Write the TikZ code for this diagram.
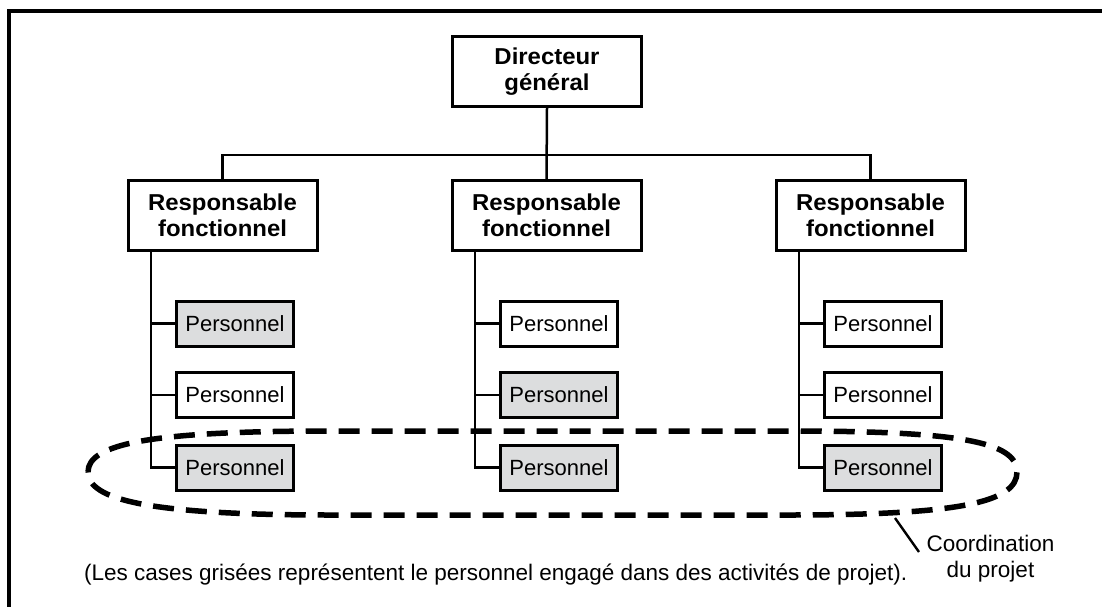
\documentclass[tikz,border=0pt]{standalone}
\usepackage{fontspec}
\setmainfont{Liberation Sans}
\newfontfamily\titrefont[FakeStretch=1.04]{Liberation Sans}
\usepackage{tikz}
\definecolor{grisCase}{RGB}{220,221,222}
\tikzstyle{chef}=[rectangle, draw, line width=3pt, fill=white, minimum width=189pt, minimum height=70pt, inner sep=0pt, align=center, font=\titrefont\bfseries\fontsize{23}{26}\selectfont]
\tikzstyle{perso}=[rectangle, draw, line width=3pt, fill=white, minimum width=117pt, minimum height=45pt, inner sep=0pt, font=\fontsize{22}{26}\selectfont]
\tikzstyle{gris}=[perso, fill=grisCase]
\tikzstyle{lien}=[line width=2.5pt]

\begin{document}
\begin{tikzpicture}[x=1pt, y=-1pt]
  \useasboundingbox (0,0) rectangle (1102,607);
  \draw[line width=3.2pt] (9,607) -- (9,11) -- (1102,11);
  % direction
  \node[chef] (dg) at (547,71.5) {Directeur\\général};
  \node[chef] (rf1) at (222.5,215.5) {Responsable\\fonctionnel};
  \node[chef] (rf2) at (546.5,215.5) {Responsable\\fonctionnel};
  \node[chef] (rf3) at (870.5,215.5) {Responsable\\fonctionnel};
  \coordinate (barre) at (547,155);
  \draw[lien] (dg.south) -- (rf2.north);
  \draw[lien] (rf1.north) |- (barre) -| (rf3.north);
  % personnel
  \foreach \c/\x/\a/\b/\d in {1/222.5/gris/perso/gris, 2/546.5/perso/gris/gris, 3/870.5/perso/perso/gris}{
    \node[\a] (p\c1) at (\x+12.5,323.5) {Personnel};
    \node[\b] (p\c2) at (\x+12.5,395) {Personnel};
    \node[\d] (p\c3) at (\x+12.5,467.5) {Personnel};
    \coordinate (t\c) at ([xshift=-71.5pt]rf\c.south);
    \draw[lien] (t\c) |- (p\c3.west);
    \draw[lien] (t\c |- p\c1.west) -- (p\c1.west);
    \draw[lien] (t\c |- p\c2.west) -- (p\c2.west);
  }
  % projet
  \draw[line width=5.5pt, dash pattern=on 21pt off 12pt]
    (88,472) .. controls (88,444) and (150,431) .. (330,431) -- (790,431)
    .. controls (960,431) and (1017,442) .. (1017,472)
    .. controls (1017,502) and (960,515) .. (790,515) -- (330,515)
    .. controls (150,515) and (88,500) .. cycle;
  \coordinate (bout) at (895,518);
  \coordinate (pied) at (919,552);
  \node[align=center, inner sep=0pt, font=\fontsize{22.5}{26}\selectfont] (coord) at (990.5,559) {Coordination\\du projet};
  \draw[line width=2.4pt] (bout) -- (pied);
  \node[anchor=base west, inner sep=0pt, font=\fontsize{22.5}{26}\selectfont] (note) at (84,580) {(Les cases grisées représentent le personnel engagé dans des activités de projet).};
\end{tikzpicture}
\end{document}
